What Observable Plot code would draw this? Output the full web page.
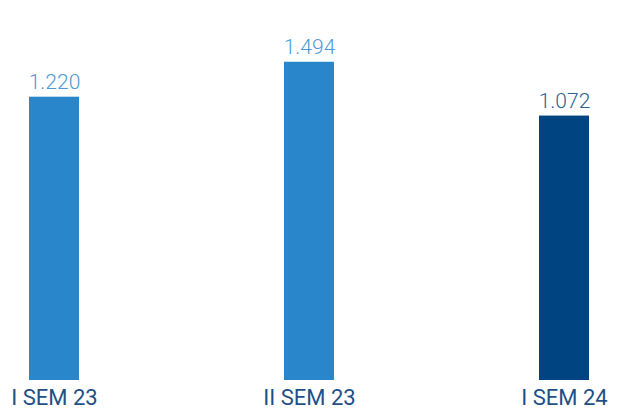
<!DOCTYPE html>
<html>
<head>
<meta charset="utf-8">
<script src="https://cdn.jsdelivr.net/npm/d3@7"></script>
<script src="https://cdn.jsdelivr.net/npm/@observablehq/plot@0.6"></script>
<style>
  html, body { margin: 0; padding: 0; background: #fff; }
  #chart { width: 620px; height: 414px; }
</style>
</head>
<body>
<div id="chart"></div>
<script>
const categories = ["I SEM 23", "II SEM 23", "I SEM 24"];
const values = [1220, 1494, 1072];
const valueLabels = ["1.220", "1.494", "1.072"];
const barColors = ["#2986CB", "#2986CB", "#004481"];
const labelColors = ["#4C9AD8", "#4C9AD8", "#2E5F95"];

const baseline = -1002;
const data = categories.map((c, i) => ({
  cat: c, value: values[i], label: valueLabels[i],
  fill: barColors[i], textFill: labelColors[i]
}));

const chart = Plot.plot({
  width: 620,
  height: 414,
  marginTop: 20,
  marginBottom: 34,
  marginLeft: 29,
  marginRight: 31,
  style: { fontFamily: "Roboto, sans-serif", background: "#fff" },
  x: { domain: categories, paddingInner: 0.804, paddingOuter: 0, axis: null },
  y: { domain: [baseline, 1821.5], axis: null },
  marks: [
    Plot.barY(data, { x: "cat", y1: baseline, y2: "value", fill: "fill" }),
    Plot.text(data, {
      x: "cat", y: "value", text: "label", fill: "textFill",
      lineAnchor: "bottom", dy: -8, fontSize: 21, fontWeight: 300
    }),
    Plot.axisX({
      tickSize: 0, tickPadding: 9, fontSize: 22, label: null,
      color: "#1F4F86", fill: "#1F4F86"
    })
  ]
});
document.getElementById("chart").appendChild(chart);
</script>
</body>
</html>
